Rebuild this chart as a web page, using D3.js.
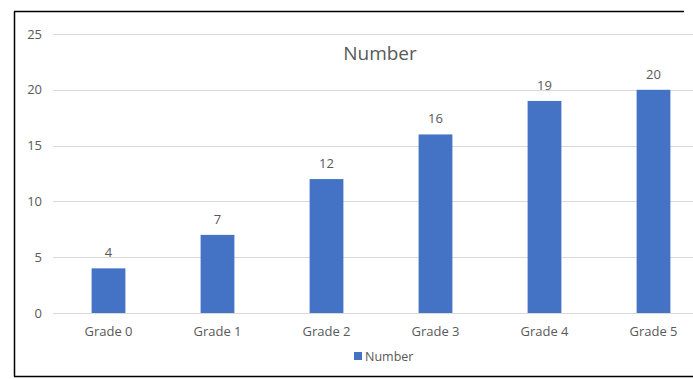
<!DOCTYPE html>
<html>
<head>
<meta charset="utf-8">
<script src="https://cdn.jsdelivr.net/npm/d3@7"></script>
<style>
  body { margin: 0; background: #fff; }
  text { font-family: "Open Sans", sans-serif; fill: #595959; }
</style>
</head>
<body>
<svg id="chart"></svg>
<script>
// data
const grades = ['Grade 0', 'Grade 1', 'Grade 2', 'Grade 3', 'Grade 4', 'Grade 5'];
const numbers = [4, 7, 12, 16, 19, 20];
const yTicks = [0, 5, 10, 15, 20, 25];
const seriesName = 'Number';

const width = 693;
const height = 379;

const svg = d3.select('#chart')
  .attr('width', width)
  .attr('height', height);

// frame
svg.append('line').attr('x1', 14.5).attr('x2', 14.5).attr('y1', 11.5).attr('y2', 376.5)
  .attr('stroke', '#000').attr('stroke-width', 1.5);
svg.append('line').attr('x1', 14).attr('x2', 684).attr('y1', 11.5).attr('y2', 11.5)
  .attr('stroke', '#000').attr('stroke-width', 1.5);
svg.append('line').attr('x1', 14).attr('x2', 693).attr('y1', 376.5).attr('y2', 376.5)
  .attr('stroke', '#000').attr('stroke-width', 1.5);

// scales
const xScale = d3.scaleBand()
  .domain(grades)
  .range([54, 708])
  .paddingInner(0.69)
  .paddingOuter(0.345);

const yScale = d3.scaleLinear()
  .domain([0, 25])
  .range([313, 34]);

// gridlines
svg.append('g')
  .selectAll('line')
  .data(yTicks)
  .enter()
  .append('line')
  .attr('x1', 53)
  .attr('x2', 693)
  .attr('y1', d => Math.round(yScale(d)) + 0.5)
  .attr('y2', d => Math.round(yScale(d)) + 0.5)
  .attr('stroke', '#d9d9d9')
  .attr('stroke-width', 1);

// y axis labels
const yAxis = d3.axisLeft(yScale).tickValues(yTicks).tickSize(0).tickPadding(0);
const gy = svg.append('g')
  .attr('transform', 'translate(42, 0)')
  .call(yAxis);
gy.select('.domain').remove();
gy.selectAll('text')
  .attr('font-size', 13)
  .attr('font-family', '"Open Sans", sans-serif')
  .attr('fill', '#595959');

// x axis labels
const xAxis = d3.axisBottom(xScale).tickSize(0).tickPadding(0);
const gx = svg.append('g')
  .attr('transform', 'translate(0, 327)')
  .call(xAxis);
gx.select('.domain').remove();
gx.selectAll('text')
  .attr('font-size', 13)
  .attr('font-family', '"Open Sans", sans-serif')
  .attr('fill', '#595959');

// bars
svg.selectAll('rect.bar')
  .data(numbers)
  .enter()
  .append('rect')
  .attr('class', 'bar')
  .attr('x', (d, i) => xScale(grades[i]))
  .attr('y', d => yScale(d))
  .attr('width', xScale.bandwidth())
  .attr('height', d => yScale(0) - yScale(d))
  .attr('fill', '#4472c4');

// data labels
svg.selectAll('text.val')
  .data(numbers)
  .enter()
  .append('text')
  .attr('class', 'val')
  .attr('x', (d, i) => xScale(grades[i]) + xScale.bandwidth() / 2)
  .attr('y', d => yScale(d) - 11)
  .attr('text-anchor', 'middle')
  .attr('font-size', 13)
  .text(d => d);

// title
svg.append('text')
  .attr('x', 380)
  .attr('y', 60)
  .attr('text-anchor', 'middle')
  .attr('font-size', 19)
  .text(seriesName);

// legend
svg.append('rect')
  .attr('x', 354)
  .attr('y', 352)
  .attr('width', 8)
  .attr('height', 8)
  .attr('fill', '#4472c4');
svg.append('text')
  .attr('x', 365)
  .attr('y', 361)
  .attr('font-size', 12.5)
  .text(seriesName);
</script>
</body>
</html>
